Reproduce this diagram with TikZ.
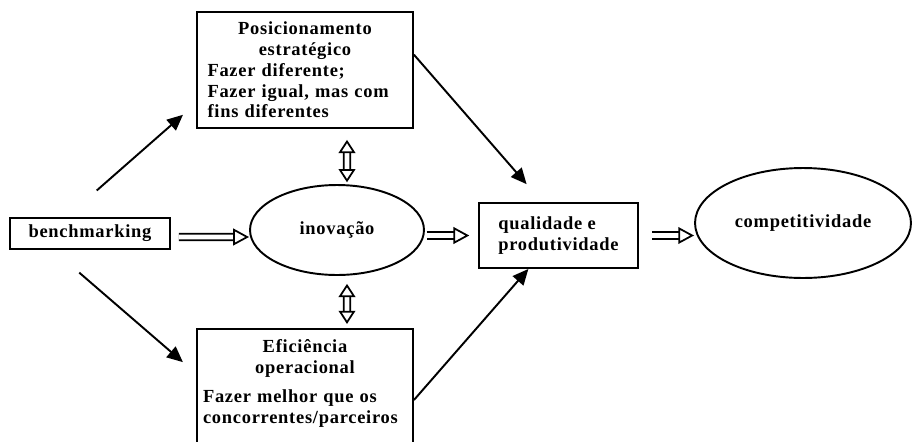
\documentclass[tikz,border=0pt]{standalone}
\usepackage{fontspec}
\setmainfont{Liberation Serif}[LetterSpace=4]
\usetikzlibrary{arrows.meta,shapes.geometric}

\begin{document}
\begin{tikzpicture}[x=0.02cm,y=0.02cm,
  font=\bfseries\fontsize{10.5}{11.8}\selectfont,
  box/.style={draw=\cLine, line width=1.1pt, rectangle, inner sep=0pt},
  oval/.style={draw=\cLine, line width=1.1pt, ellipse, inner sep=0pt},
  arr/.style={draw=\cLine, line width=1.1pt, -{Triangle[length=9pt,width=8pt]}},
  hollow/.style={draw=\cLine, line width=1pt, double=white, double distance=2.6pt,
    -{Triangle[open,length=9pt,width=9.5pt,line width=1pt]}},
  dhollow/.style={hollow, {Triangle[open,length=7.5pt,width=9.5pt,line width=1pt]}-{Triangle[open,length=7.5pt,width=9.5pt,line width=1pt]}}]
\def\cLine{black}
\useasboundingbox (0,0) rectangle (915,441);
% blocos
\node[box, minimum width=3.2cm, minimum height=0.62cm] (bench) at (90,207.5) {benchmarking};
\node[box, minimum width=4.32cm, minimum height=2.32cm, text width=3.9cm, align=left] (pos) at (305,371)
  {{\centering Posicionamento\\ estratégico\par}Fazer diferente;\\ Fazer igual, mas com\\ fins diferentes};
\node[box, anchor=north, minimum width=4.32cm, text width=4.08cm, align=left, inner ysep=6pt] (eff) at (305,113)
  {{\centering Eficiência\\ operacional\par}\vspace{5pt}Fazer melhor que os\\ concorrentes/parceiros\\[6pt]\mbox{}};
\node[oval, minimum width=3.48cm, minimum height=1.8cm] (inov) at (337,211) {inovação};
\node[box, minimum width=3.18cm, minimum height=1.3cm, align=left] (qual) at (558.5,205.5) {qualidade e\\ produtividade};
\node[oval, minimum width=4.32cm, minimum height=2.2cm] (comp) at (803,218) {competitividade};
% setas
\draw[arr, shorten <=22.9pt, shorten >=9.9pt] (bench.145) -- (pos.197);
\draw[arr, shorten <=19.7pt, shorten >=9.9pt] (bench.204.5) -- ([yshift=-0.91cm]eff.north west);
\draw[arr, shorten >=13.5pt] (pos.8) -- (qual.116);
\draw[arr] ([yshift=-1.44cm]eff.north east) -- (qual.228);
\draw[hollow] ([xshift=0.16cm,yshift=-0.07cm]bench.east) -- ([yshift=-0.14cm]inov.west);
\draw[hollow, shorten <=1pt, shorten >=5pt] (inov.east |- qual.west) -- (qual.west);
\draw[hollow, shorten <=7.4pt] (qual.east) -- (comp.west |- qual.east);
\draw[dhollow, shorten <=6.2pt, shorten >=1pt] ([xshift=0.84cm]pos.south) -- ([xshift=0.2cm]inov.north);
\draw[dhollow, shorten <=4.5pt, shorten >=2.3pt] ([xshift=0.2cm]inov.south) -- ([xshift=0.84cm]eff.north);
\end{tikzpicture}
\end{document}
